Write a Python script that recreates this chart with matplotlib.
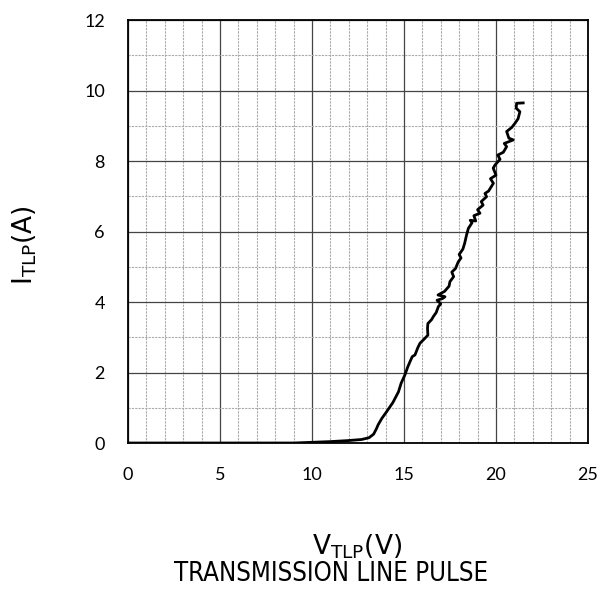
import matplotlib
matplotlib.use("Agg")
import matplotlib.pyplot as plt
from matplotlib.ticker import MultipleLocator

V = [0, 5, 9, 10, 11, 12, 12.7, 13.1, 13.35, 13.5, 13.6, 13.8, 14.06, 14.4, 14.6, 14.7,
     14.85, 15.05, 15.2, 15.33, 15.45, 15.6, 15.75, 15.87, 16.1, 16.3, 16.28, 16.3, 16.5,
     16.6, 16.75, 16.87, 17.0, 16.8, 17.1, 17.23, 16.85, 17.2, 17.45, 17.5, 17.7, 17.6,
     17.8, 17.95, 18.1, 18.0, 18.2, 18.3, 18.4, 18.5, 18.7, 18.6, 18.9, 18.8, 19.13, 19.0,
     19.3, 19.2, 19.49, 19.4, 19.6, 19.86, 19.7, 20.0, 19.85, 19.95, 20.22, 20.1, 20.4,
     20.58, 20.45, 20.94, 20.7, 20.58, 20.85, 21.03, 21.2, 21.3, 21.1, 21.12, 21.48]
I = [0, 0, 0, 0.02, 0.04, 0.07, 0.1, 0.15, 0.25, 0.4, 0.52, 0.7, 0.89, 1.15, 1.35, 1.45,
     1.7, 1.93, 2.15, 2.31, 2.45, 2.5, 2.7, 2.83, 2.95, 3.06, 3.25, 3.39, 3.5,
     3.59, 3.7, 3.87, 3.95, 4.05, 4.1, 4.15, 4.2, 4.3, 4.45, 4.58, 4.72, 4.85,
     4.95, 5.14, 5.25, 5.35, 5.5, 5.67, 5.9, 6.09, 6.25, 6.32, 6.3, 6.45, 6.52, 6.62,
     6.75, 6.85, 6.99, 7.08, 7.15, 7.37, 7.5, 7.6, 7.8, 7.89, 8.05, 8.17, 8.25,
     8.41, 8.5, 8.6, 8.65, 8.84, 8.95, 9.07, 9.2, 9.4, 9.5, 9.64, 9.65]

x_ticks = [0, 5, 10, 15, 20, 25]
y_ticks = [0, 2, 4, 6, 8, 10, 12]

plt.rcParams['mathtext.fontset'] = 'custom'
plt.rcParams['mathtext.rm'] = 'DejaVu Sans:stretch=condensed'
plt.rcParams['mathtext.it'] = 'DejaVu Sans:stretch=condensed'

fig = plt.figure(figsize=(6.09, 5.91), dpi=100)
ax = fig.add_axes([0.210, 0.2504, 0.7555, 0.7156])
ax.plot(V, I, color='black', lw=2.0, solid_joinstyle='round', zorder=3)
ax.set_xlim(0, 25)
ax.set_ylim(0, 12)
ax.set_xticks(x_ticks)
ax.set_yticks(y_ticks)
ax.xaxis.set_minor_locator(MultipleLocator(1))
ax.yaxis.set_minor_locator(MultipleLocator(1))
ax.grid(which='major', color='#444444', lw=0.9, ls='-')
ax.grid(which='minor', color='#aaaaaa', lw=0.8, ls=(0, (2, 1)))
ax.tick_params(which='both', length=0)
ax.tick_params(axis='x', pad=17)
ax.tick_params(axis='y', pad=16.5)
for lab in ax.get_xticklabels() + ax.get_yticklabels():
    lab.set_fontfamily('Lato')
    lab.set_fontsize(13)
for s in ax.spines.values():
    s.set_color('black')
    s.set_linewidth(1.3)
ax.set_axisbelow(True)

fig.text(0.041, 0.585, r'$\mathregular{I_{TLP}(A)}$', rotation=90, ha='center', va='center',
         fontsize=19)
fig.text(0.587, 0.075, r'$\mathregular{V_{TLP}(V)}$', ha='center', va='center',
         fontsize=19)
fig.text(0.544, 0.029, 'TRANSMISSION LINE PULSE', ha='center', va='center',
         fontsize=18.5, family='DejaVu Sans', fontstretch='condensed')

fig.savefig('out.png', dpi=100)
